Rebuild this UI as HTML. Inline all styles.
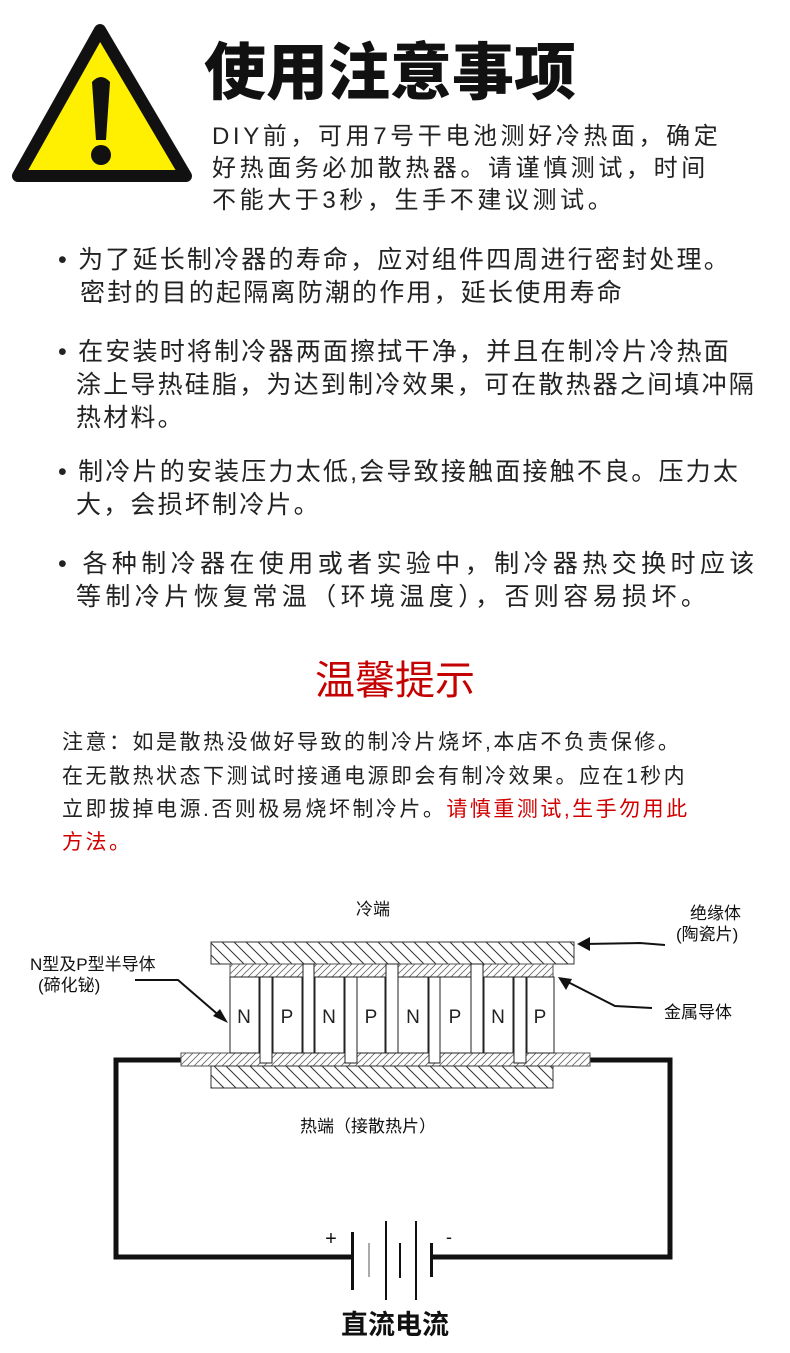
<!DOCTYPE html>
<html><head><meta charset="utf-8"><style>
body{margin:0;width:790px;height:1353px;background:#fff;position:relative;overflow:hidden;font-family:"Liberation Sans","Noto Sans CJK SC",sans-serif;color:#222}
.a{position:absolute;white-space:nowrap}
.t{font-size:62px;font-weight:900;color:#111;letter-spacing:0px}
.s{font-size:24px;letter-spacing:3.6px;color:#222}
.b{font-size:25px;letter-spacing:2.2px;color:#222}
.p{font-size:21px;letter-spacing:2.5px;color:#222}
.d{font-size:17px;color:#111}
</style></head><body>
<svg class="a" style="left:0;top:0" width="200" height="200">
<path d="M100,30 L18,176 L186,176 Z" fill="#ffef00" stroke="#111" stroke-width="12" stroke-linejoin="round"/>
<path d="M92,82 Q101,72 110,82 L106,140 L96,140 Z" fill="#111"/>
<circle cx="101" cy="155" r="10" fill="#111"/>
</svg>
<div class="a t" style="left:204px;top:22px">使用注意事项</div>
<div class="a s" style="left:212px;top:116px">DIY前，可用7号干电池测好冷热面，确定</div>
<div class="a s" style="left:212px;top:148px">好热面务必加散热器。请谨慎测试，时间</div>
<div class="a s" style="left:212px;top:180px">不能大于3秒，生手不建议测试。</div>

<div class="a b" style="left:58px;top:240px">• 为了延长制冷器的寿命，应对组件四周进行密封处理。</div>
<div class="a b" style="left:80px;top:273px">密封的目的起隔离防潮的作用，延长使用寿命</div>
<div class="a b" style="left:58px;top:332px">• 在安装时将制冷器两面擦拭干净，并且在制冷片冷热面</div>
<div class="a b" style="left:76px;top:365px">涂上导热硅脂，为达到制冷效果，可在散热器之间填冲隔</div>
<div class="a b" style="left:76px;top:398px">热材料。</div>
<div class="a b" style="left:58px;top:452px">• 制冷片的安装压力太低,会导致接触面接触不良。压力太</div>
<div class="a b" style="left:76px;top:485px">大，会损坏制冷片。</div>
<div class="a b" style="left:58px;top:544px;letter-spacing:4.4px">• 各种制冷器在使用或者实验中，制冷器热交换时应该</div>
<div class="a b" style="left:76px;top:577px;letter-spacing:4.4px">等制冷片恢复常温（环境温度），否则容易损坏。</div>

<div class="a" style="left:0;width:790px;text-align:center;top:648px;font-size:40px;color:#c40000">温馨提示</div>
<div class="a p" style="left:62px;top:726px">注意：如是散热没做好导致的制冷片烧坏,本店不负责保修。</div>
<div class="a p" style="left:62px;top:760px">在无散热状态下测试时接通电源即会有制冷效果。应在1秒内</div>
<div class="a p" style="left:62px;top:793px">立即拔掉电源.否则极易烧坏制冷片。<span style="color:#d00000">请慎重测试,生手勿用此</span></div>
<div class="a p" style="left:62px;top:826px;color:#d00000">方法。</div>

<svg class="a" style="left:0;top:880px" width="790" height="473">
<defs>
<pattern id="h1" width="12" height="12" patternUnits="userSpaceOnUse"><path d="M0,0 L12,12 M-6,6 L6,18 M6,-6 L18,6" stroke="#333" stroke-width="1"/></pattern>
<pattern id="h2" width="7" height="7" patternUnits="userSpaceOnUse"><path d="M0,7 L7,0 M-2,2 L2,-2 M5,9 L9,5" stroke="#666" stroke-width="0.8"/></pattern>
</defs>
<g transform="translate(0,-880)">
<polyline points="181,1060 116,1060 116,1257 353,1257" fill="none" stroke="#111" stroke-width="5"/>
<polyline points="590,1060 670,1060 670,1257 432,1257" fill="none" stroke="#111" stroke-width="5"/>
<rect x="211" y="942" width="363" height="22" fill="url(#h1)" stroke="#333"/>
<rect x="230" y="964" width="323" height="13" fill="url(#h2)" stroke="#555"/>
<rect x="181" y="1053" width="409" height="13" fill="url(#h2)" stroke="#555"/>
<rect x="211" y="1066" width="342" height="22" fill="url(#h1)" stroke="#333"/>
<g fill="#fff" stroke="#222">
<rect x="230" y="977" width="29" height="76"/><rect x="273" y="977" width="29" height="76"/>
<rect x="315" y="977" width="29" height="76"/><rect x="357" y="977" width="28" height="76"/>
<rect x="398" y="977" width="30" height="76"/><rect x="440" y="977" width="31" height="76"/>
<rect x="484" y="977" width="29" height="76"/><rect x="527" y="977" width="27" height="76"/>
<rect x="260" y="977" width="12" height="86"/><rect x="345" y="977" width="12" height="86"/>
<rect x="429" y="977" width="11" height="86"/><rect x="514" y="977" width="12" height="86"/>
<rect x="303" y="964" width="11" height="89"/><rect x="386" y="964" width="12" height="89"/>
<rect x="471" y="964" width="12" height="89"/>
</g>
<g font-size="19" fill="#222" text-anchor="middle" font-family="Liberation Sans,sans-serif">
<text x="244" y="1023">N</text><text x="287" y="1023">P</text><text x="329" y="1023">N</text><text x="371" y="1023">P</text>
<text x="413" y="1023">N</text><text x="455" y="1023">P</text><text x="498" y="1023">N</text><text x="540" y="1023">P</text>
</g>
<g stroke="#111" stroke-width="2" fill="none">
<polyline points="135,980 178,980 222,1018"/>
<polyline points="665,945 640,943 583,944"/>
<polyline points="652,1008 615,1006 562,979"/>
</g>
<g fill="#111">
<polygon points="228,1023 213,1016 220,1009"/>
<polygon points="577,944 590,937 590,951"/>
<polygon points="558,977 572,979 566,990"/>
</g>
<rect x="351" y="1232" width="3" height="58" fill="#111"/>
<rect x="368" y="1243" width="2" height="34" fill="#aaa"/>
<rect x="385" y="1221" width="2" height="79" fill="#111"/>
<rect x="399" y="1243" width="2" height="35" fill="#111"/>
<rect x="415" y="1221" width="2" height="79" fill="#111"/>
<rect x="430" y="1243" width="3" height="34" fill="#111"/>
<text x="331" y="1245" font-size="20" text-anchor="middle" fill="#111">+</text>
<text x="449" y="1243" font-size="18" text-anchor="middle" fill="#111">-</text>
</g>
</svg>
<div class="a d" style="left:356px;top:895px">冷端</div>
<div class="a d" style="left:690px;top:899px">绝缘体</div>
<div class="a d" style="left:676px;top:920px">(陶瓷片)</div>
<div class="a d" style="left:30px;top:950px">N型及P型半导体</div>
<div class="a d" style="left:38px;top:971px">(碲化铋)</div>
<div class="a d" style="left:664px;top:998px">金属导体</div>
<div class="a d" style="left:300px;top:1112px">热端（接散热片）</div>
<div class="a" style="left:0;width:790px;text-align:center;top:1303px;font-size:27px;font-weight:bold;color:#111">直流电流</div>
</body></html>
